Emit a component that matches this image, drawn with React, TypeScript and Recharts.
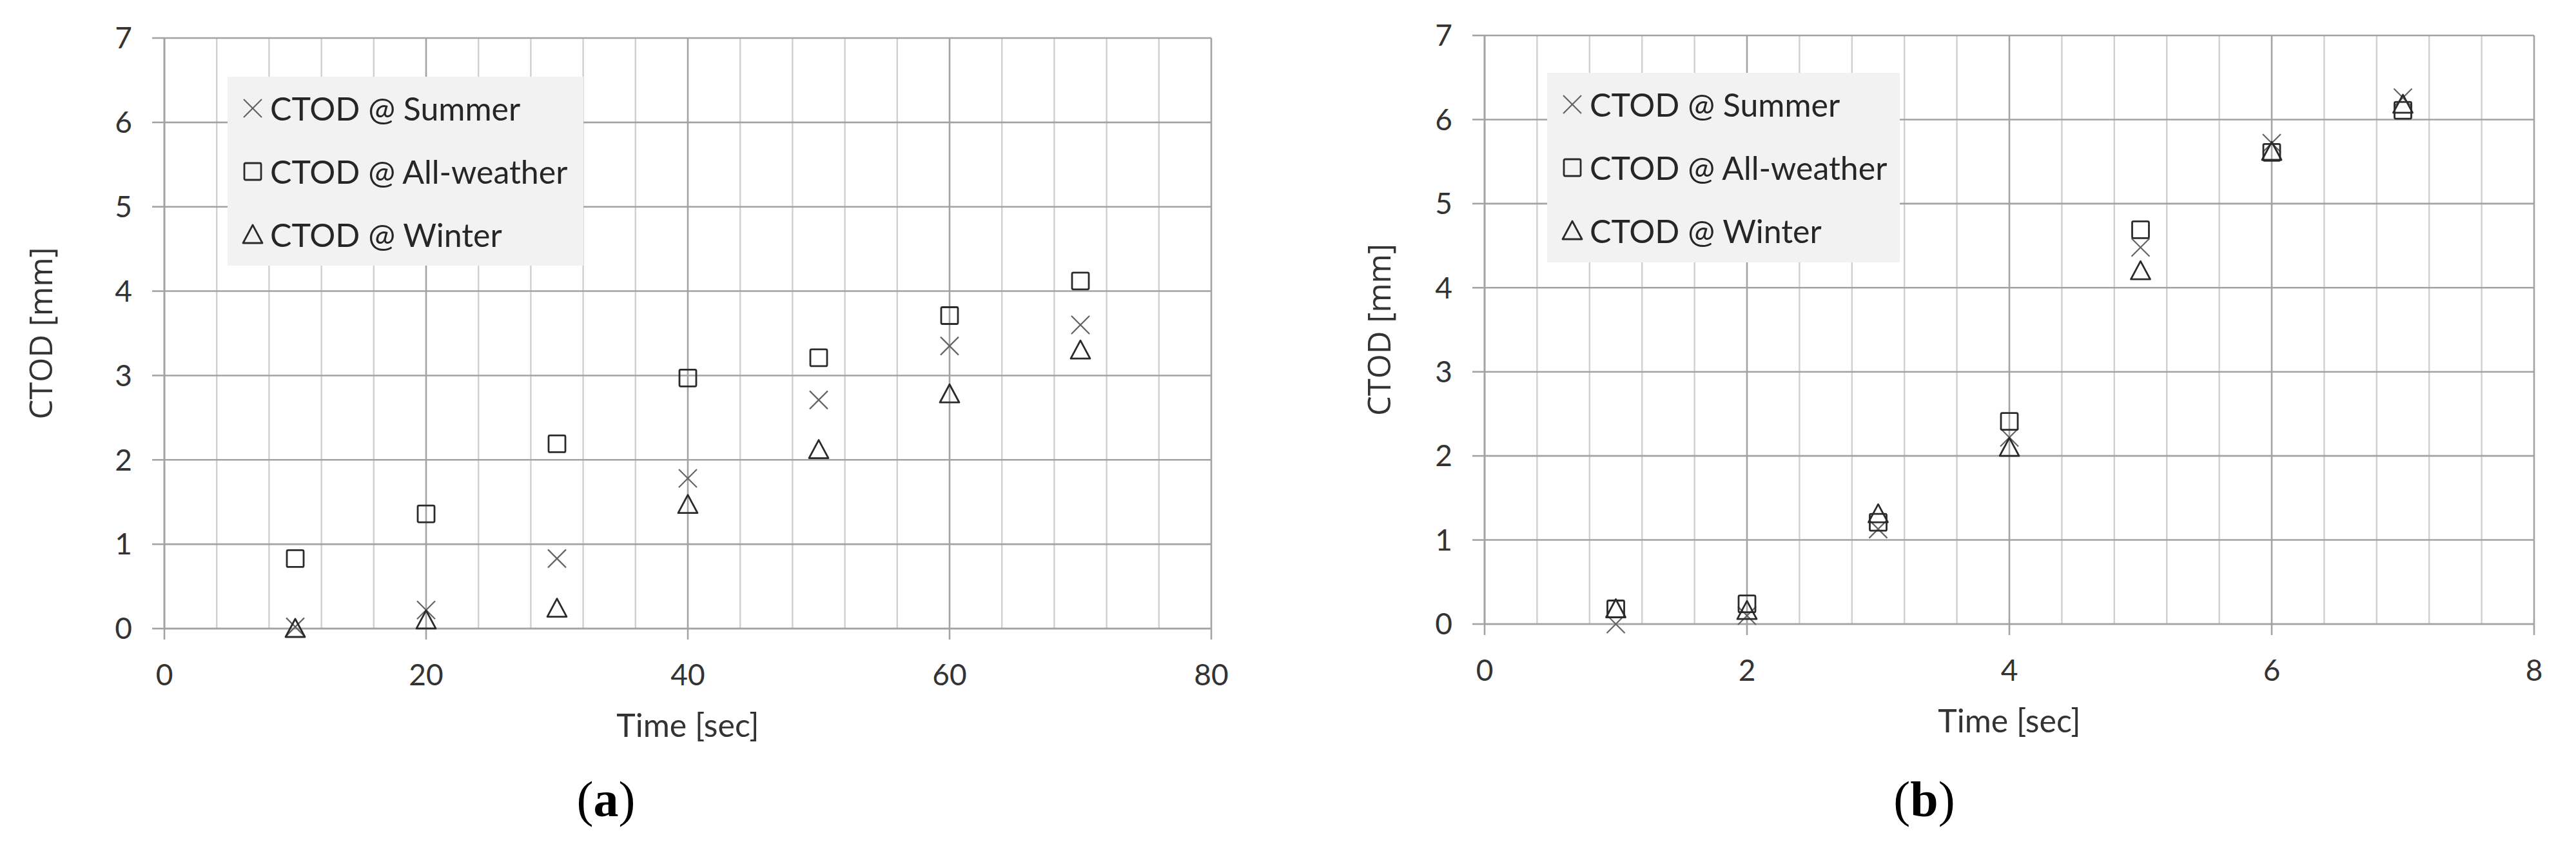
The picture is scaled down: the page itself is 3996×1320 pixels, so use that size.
import {
  CartesianGrid,
  Legend,
  Scatter,
  ScatterChart,
  XAxis,
  YAxis,
} from "recharts";

// (a) time in 10 s steps
const timeA = [10, 20, 30, 40, 50, 60, 70];
const summerA = [0.02, 0.22, 0.83, 1.78, 2.71, 3.35, 3.6];
const allWeatherA = [0.83, 1.36, 2.19, 2.97, 3.21, 3.71, 4.12];
const winterA = [0.0, 0.1, 0.24, 1.47, 2.12, 2.78, 3.3];

// (b) time in 1 s steps
const timeB = [1, 2, 3, 4, 5, 6, 7];
const summerB = [0.0, 0.1, 1.13, 2.22, 4.48, 5.72, 6.26];
const allWeatherB = [0.18, 0.24, 1.21, 2.41, 4.69, 5.61, 6.11];
const winterB = [0.18, 0.16, 1.31, 2.1, 4.2, 5.62, 6.18];

const yTicks = [0, 1, 2, 3, 4, 5, 6, 7];
const xTicksA = [0, 20, 40, 60, 80];
const xMinorA = [4, 8, 12, 16, 24, 28, 32, 36, 44, 48, 52, 56, 64, 68, 72, 76];
const xTicksB = [0, 2, 4, 6, 8];
const xMinorB = [0.4, 0.8, 1.2, 1.6, 2.4, 2.8, 3.2, 3.6, 4.4, 4.8, 5.2, 5.6, 6.4, 6.8, 7.2, 7.6];

const seriesNames = ["CTOD @ Summer", "CTOD @ All-weather", "CTOD @ Winter"];

const MAJOR = "#a3a3a3";
const MINOR = "#d0d0d0";
const TEXT = "#333333";
const FONT = "Lato, 'Open Sans', sans-serif";

type Pt = { x: number; y: number };

const toPoints = (xs: number[], ys: number[]): Pt[] =>
  xs.map((x, i) => ({ x, y: ys[i] }));

type ShapeProps = { cx?: number; cy?: number };

function CrossMark({ cx = 0, cy = 0 }: ShapeProps) {
  const r = 14;
  return (
    <g stroke="#626262" strokeWidth={2.2} fill="none">
      <line x1={cx - r} y1={cy - r} x2={cx + r} y2={cy + r} />
      <line x1={cx - r} y1={cy + r} x2={cx + r} y2={cy - r} />
    </g>
  );
}

function SquareMark({ cx = 0, cy = 0 }: ShapeProps) {
  return (
    <rect
      x={cx - 13}
      y={cy - 13}
      width={26}
      height={26}
      rx={2}
      fill="none"
      stroke="#2a2a2a"
      strokeWidth={2.8}
    />
  );
}

function TriangleMark({ cx = 0, cy = 0 }: ShapeProps) {
  return (
    <path
      d={`M${cx},${cy - 15} L${cx + 15},${cy + 13} L${cx - 15},${cy + 13} Z`}
      fill="none"
      stroke="#2a2a2a"
      strokeWidth={2.8}
      strokeLinejoin="round"
    />
  );
}

const markers = [CrossMark, SquareMark, TriangleMark];

function LegendBox() {
  return (
    <div
      style={{
        background: "#f2f2f2",
        width: "100%",
        height: "100%",
        boxSizing: "border-box",
        paddingTop: 0,
      }}
    >
      {seriesNames.map((name, i) => {
        const Mark = markers[i];
        return (
          <div
            key={name}
            style={{
              display: "flex",
              alignItems: "center",
              height: 98,
              paddingLeft: 22,
            }}
          >
            <svg width={34} height={40} style={{ marginRight: 10 }}>
              <Mark cx={17} cy={20} />
            </svg>
            <span
              style={{
                fontFamily: FONT,
                fontSize: 50,
                color: "#262626",
                whiteSpace: "nowrap",
              }}
            >
              {name}
            </span>
          </div>
        );
      })}
    </div>
  );
}

type PanelProps = {
  left: number;
  width: number;
  margin: { top: number; right: number; bottom: number; left: number };
  yAxisWidth: number;
  yLabelOffset: number;
  xMax: number;
  xTicks: number[];
  xMinor: number[];
  data: Pt[][];
  legendPos: { left: number; top: number; width: number; height: number };
  tag: string;
  tagX: number;
};

function Panel({
  left,
  width,
  margin,
  yAxisWidth,
  yLabelOffset,
  xMax,
  xTicks,
  xMinor,
  data,
  legendPos,
  tag,
  tagX,
}: PanelProps) {
  return (
    <div style={{ position: "absolute", left, top: 0, width, height: 1320 }}>
      <ScatterChart width={width} height={1320} margin={margin}>
        <CartesianGrid
          horizontal={false}
          verticalValues={xMinor}
          stroke={MINOR}
          strokeWidth={2.4}
        />
        <CartesianGrid
          verticalValues={xTicks}
          horizontalValues={yTicks}
          stroke={MAJOR}
          strokeWidth={2.6}
        />
        <XAxis
          type="number"
          dataKey="x"
          domain={[0, xMax]}
          ticks={xTicks}
          height={190}
          axisLine={{ stroke: MAJOR, strokeWidth: 2.6 }}
          tickLine={{ stroke: MAJOR, strokeWidth: 2.6 }}
          tickSize={17}
          tickMargin={38}
          tick={{ fill: TEXT, fontSize: 46, fontFamily: FONT }}
          label={{
            value: "Time [sec]",
            position: "insideBottom",
            offset: 22,
            fill: TEXT,
            fontSize: 50,
            fontFamily: FONT,
          }}
        />
        <YAxis
          type="number"
          dataKey="y"
          domain={[0, 7]}
          ticks={yTicks}
          width={yAxisWidth}
          axisLine={{ stroke: MAJOR, strokeWidth: 2.6 }}
          tickLine={{ stroke: MAJOR, strokeWidth: 2.6 }}
          tickSize={19}
          tickMargin={31}
          tick={{ fill: TEXT, fontSize: 46, fontFamily: FONT }}
          label={{
            value: "CTOD [mm]",
            angle: -90,
            position: "insideLeft",
            offset: yLabelOffset,
            fill: TEXT,
            fontSize: 49,
            fontFamily: "'Open Sans', sans-serif",
            style: { textAnchor: "middle" },
          }}
        />
        {data.map((pts, i) => {
          const Mark = markers[i];
          return (
            <Scatter
              key={seriesNames[i]}
              name={seriesNames[i]}
              data={pts}
              isAnimationActive={false}
              shape={(p: ShapeProps) => <Mark cx={p.cx} cy={p.cy} />}
            />
          );
        })}
        <Legend
          layout="vertical"
          align="center"
          verticalAlign="middle"
          wrapperStyle={{ ...legendPos, position: "absolute" }}
          content={() => <LegendBox />}
        />
      </ScatterChart>
      <div
        style={{
          position: "absolute",
          left: tagX - 100,
          width: 200,
          top: 1192,
          textAlign: "center",
          fontFamily: "'Liberation Serif', serif",
          fontSize: 78,
          lineHeight: "96px",
          color: "#000",
        }}
      >
        ({<b>{tag}</b>})
      </div>
    </div>
  );
}

export default function App() {
  const dataA = [
    toPoints(timeA, summerA),
    toPoints(timeA, allWeatherA),
    toPoints(timeA, winterA),
  ];
  const dataB = [
    toPoints(timeB, summerB),
    toPoints(timeB, allWeatherB),
    toPoints(timeB, winterB),
  ];

  return (
    <div
      style={{
        position: "absolute",
        left: 0,
        top: 0,
        width: 3996,
        height: 1320,
        background: "#fff",
      }}
    >
      <Panel
        left={0}
        width={2000}
        margin={{ top: 59, right: 121, bottom: 155, left: 20 }}
        yAxisWidth={235}
        yLabelOffset={44}
        xMax={80}
        xTicks={xTicksA}
        xMinor={xMinorA}
        data={dataA}
        legendPos={{ left: 353, top: 119, width: 552, height: 293 }}
        tag="a"
        tagX={940}
      />
      <Panel
        left={2000}
        width={1996}
        margin={{ top: 55, right: 65, bottom: 162, left: 60 }}
        yAxisWidth={243}
        yLabelOffset={80}
        xMax={8}
        xTicks={xTicksB}
        xMinor={xMinorB}
        data={dataB}
        legendPos={{ left: 400, top: 113, width: 547, height: 294 }}
        tag="b"
        tagX={985}
      />
    </div>
  );
}
